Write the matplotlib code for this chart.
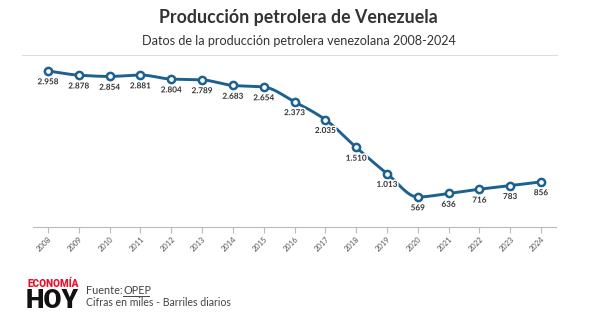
import matplotlib
matplotlib.use('Agg')
import matplotlib.pyplot as plt
import matplotlib.patheffects as pe
from matplotlib.lines import Line2D
import numpy as np

# produccion petrolera (miles de barriles diarios)
years = [2008, 2009, 2010, 2011, 2012, 2013, 2014, 2015, 2016,
         2017, 2018, 2019, 2020, 2021, 2022, 2023, 2024]
produccion = [2958, 2878, 2854, 2881, 2804, 2789, 2683, 2654, 2373,
              2035, 1510, 1013, 569, 636, 716, 783, 856]

title = 'Producción petrolera de Venezuela'
subtitle = 'Datos de la producción petrolera venezolana 2008-2024'

LINE = '#1c6190'
TXT = '#333333'
plt.rcParams['font.family'] = ['Lato', 'DejaVu Sans']


def monotone(x, y, n=20):
    # curva monotona (Fritsch-Carlson) solo para el trazo de la linea
    x = np.asarray(x, float)
    y = np.asarray(y, float)
    h = np.diff(x)
    d = np.diff(y) / h
    m = np.zeros_like(y)
    m[0], m[-1] = d[0], d[-1]
    for i in range(1, len(y) - 1):
        if d[i - 1] * d[i] <= 0:
            m[i] = 0
        else:
            w1 = 2 * h[i] + h[i - 1]
            w2 = h[i] + 2 * h[i - 1]
            m[i] = (w1 + w2) / (w1 / d[i - 1] + w2 / d[i])
    xs, ys = [], []
    for i in range(len(x) - 1):
        t = np.linspace(0, 1, n, endpoint=False)
        h00 = 2 * t**3 - 3 * t**2 + 1
        h10 = t**3 - 2 * t**2 + t
        h01 = -2 * t**3 + 3 * t**2
        h11 = t**3 - t**2
        xs.append(x[i] + t * h[i])
        ys.append(h00 * y[i] + h10 * h[i] * m[i] + h01 * y[i + 1] + h11 * h[i] * m[i + 1])
    xs.append([x[-1]])
    ys.append([y[-1]])
    return np.concatenate(xs), np.concatenate(ys)


def fmt(v):
    return '{:,}'.format(v).replace(',', '.')


fig = plt.figure(figsize=(5.97, 3.33), dpi=100)
ax = fig.add_axes([0.0546, 0.3183, 0.8774, 0.5165])

cx, cy = monotone(years, produccion)
ax.plot(cx, cy, color=LINE, lw=2.1, solid_capstyle='round', zorder=2)
ax.plot(years, produccion, 'o', ms=5.2, mfc='white', mec=LINE, mew=1.8, zorder=3)

for x, v in zip(years, produccion):
    ax.annotate(fmt(v), (x, v), xytext=(0, -7.8), textcoords='offset points',
                ha='center', va='center', fontsize=5.9, fontweight='bold', color=TXT,
                path_effects=[pe.withStroke(linewidth=2.2, foreground='white')], zorder=4)

ax.set_xlim(2007.5, 2024.5)
ax.set_ylim(0, 3260)
ax.set_yticks([])
ax.set_xticks(years)
ax.set_xticklabels([str(y) for y in years], rotation=45, fontsize=5.4, color='#555555',
                   ha='right', rotation_mode='anchor')
ax.tick_params(axis='x', length=4, width=0.8, color='#bbbbbb', pad=2)
for s in ['top', 'left', 'right']:
    ax.spines[s].set_visible(False)
ax.spines['bottom'].set_color('#bbbbbb')
ax.spines['bottom'].set_linewidth(0.8)

fig.text(0.5, 0.948, title, ha='center', va='center', fontsize=12.8,
         fontweight='bold', color=TXT)
fig.text(0.5, 0.877, subtitle, ha='center', va='center', fontsize=9.1, color=TXT)
fig.add_artist(Line2D([22 / 597, 557 / 597], [1 - 55 / 333] * 2, color='#dddddd', lw=0.8))

# pie: logo y fuente
fig.text(27 / 597, 1 - 284 / 333, 'ECONOMÍA', ha='left', va='center', fontsize=7.2,
         fontweight='heavy', color='#e8112d', family=['Roboto', 'DejaVu Sans'])
fig.text(25.5 / 597, 1 - 300.5 / 333, 'HOY', ha='left', va='center', fontsize=19,
         fontweight='heavy', color='#111111', family=['Roboto', 'DejaVu Sans'])
fuente = fig.text(86 / 597, 1 - 290 / 333, 'Fuente:', ha='left', va='center',
                  fontsize=7.8, color='#444444')
fig.text(123 / 597, 1 - 290 / 333, 'OPEP', ha='left', va='center', fontsize=7.8, color='#444444')
fig.add_artist(Line2D([123 / 597, 149 / 597], [1 - 296 / 333] * 2, color='#444444', lw=0.7))
fig.text(86 / 597, 1 - 303 / 333, 'Cifras en miles - Barriles diarios', ha='left', va='center',
         fontsize=7.6, color='#444444')

fig.savefig('out.png', dpi=100, facecolor='white')
